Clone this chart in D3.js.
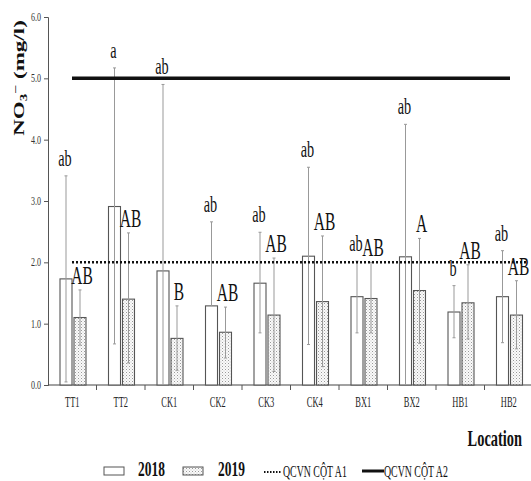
<!DOCTYPE html>
<html><head><meta charset="utf-8">
<script src="https://cdn.jsdelivr.net/npm/d3@7"></script>
<style>body{margin:0;background:#fff}svg{display:block}</style>
</head><body>
<svg id="c" width="531" height="481"></svg>
<script>
const categories = ["TT1","TT2","CK1","CK2","CK3","CK4","BX1","BX2","HB1","HB2"];
const series = ["2018","2019"];
const mean2018  = [1.73, 2.91, 1.86, 1.29, 1.66, 2.10, 1.44, 2.09, 1.19, 1.44];
const upper2018 = [3.41, 5.17, 4.90, 2.66, 2.49, 3.55, 2.02, 4.25, 1.62, 2.19];
const lower2018 = [0.05, 0.67, 0.00, 1.29, 0.85, 0.66, 0.85, 0.00, 0.77, 0.69];
const mean2019  = [1.10, 1.40, 0.76, 0.86, 1.14, 1.36, 1.41, 1.54, 1.34, 1.14];
const upper2019 = [1.55, 2.48, 1.29, 1.27, 2.07, 2.43, 2.00, 2.39, 1.96, 1.70];
const lower2019 = [0.65, 0.36, 0.24, 0.44, 0.22, 0.30, 0.85, 0.68, 0.75, 0.59];
const letters2018 = ["ab","a","ab","ab","ab","ab","ab","ab","b","ab"];
const letters2019 = ["AB","AB","B","AB","AB","AB","AB","A","AB","AB"];
const yTicks = [0,1,2,3,4,5,6];
const limitA1 = 2.0;
const limitA2 = 5.0;
const legendLabels = ["2018","2019","QCVN CỘT A1","QCVN CỘT A2"];

const svg = d3.select("#c");
const SERIF = "'Liberation Serif','Times New Roman',serif";
const SX = 0.62;

const defs = svg.append("defs");
const pat = defs.append("pattern").attr("id","dots").attr("patternUnits","userSpaceOnUse")
  .attr("width",3).attr("height",3);
pat.append("rect").attr("width",3).attr("height",3).attr("fill","#fafafa");
pat.append("rect").attr("x",0).attr("y",0).attr("width",1).attr("height",1).attr("fill","#9a9a9a");
pat.append("rect").attr("x",1.5).attr("y",1.5).attr("width",1).attr("height",1).attr("fill","#c4c4c4");

const x = d3.scaleBand().domain(categories).range([48, 533]);
const x1 = d3.scaleBand().domain(series).range([12, 38]).paddingInner(2/14);
const y = d3.scaleLinear().domain([0, 6]).range([385, 17]);

function ctext(parent, px, py, str, size, opts = {}) {
  return parent.append("text")
    .attr("transform", `translate(${px},${py}) scale(${opts.sx || SX},1)`)
    .attr("text-anchor", opts.anchor || "middle")
    .attr("font-family", SERIF)
    .attr("font-size", size)
    .attr("font-weight", opts.bold ? "bold" : "normal")
    .attr("fill", opts.fill || "#111")
    .text(str);
}

// axes
const yAxis = svg.append("g").attr("transform","translate(48,0)")
  .call(d3.axisLeft(y).tickValues(yTicks).tickSize(4).tickFormat(() => ""));
yAxis.select(".domain").attr("stroke","#555");
yAxis.selectAll(".tick line").attr("stroke","#555");
yTicks.forEach(t => ctext(svg, 36, y(t) + 4, d3.format(".1f")(t), 13, {fill:"#333"}));

const xAxis = svg.append("g").attr("transform","translate(0,385)")
  .call(d3.axisBottom(x).tickSize(0).tickFormat(() => ""));
xAxis.select(".domain").attr("stroke","#444").attr("d","M48,0H531");
categories.slice(1).forEach(c => {
  svg.append("line").attr("x1", x(c)).attr("x2", x(c)).attr("y1",385).attr("y2",390)
    .attr("stroke","#555");
});
categories.forEach(c => ctext(svg, x(c) + x.bandwidth()/2, 407, c, 14.5, {fill:"#222", sx:0.58}));

// bars + error bars
const data = [
  {s:"2018", mean:mean2018, up:upper2018, lo:lower2018, letters:letters2018},
  {s:"2019", mean:mean2019, up:upper2019, lo:lower2019, letters:letters2019}
];
data.forEach(d => {
  const g = svg.append("g");
  categories.forEach((c, i) => {
    const bx = x(c) + x1(d.s);
    const bw = x1.bandwidth();
    const cx = bx + bw/2;
    g.append("rect").attr("x", bx).attr("y", y(d.mean[i])).attr("width", bw)
      .attr("height", y(0) - y(d.mean[i]))
      .attr("fill", d.s === "2018" ? "#fff" : "url(#dots)")
      .attr("stroke", "#555").attr("stroke-width", 1.1);
    g.append("line").attr("x1", cx).attr("x2", cx).attr("y1", y(d.up[i])).attr("y2", y(d.lo[i]))
      .attr("stroke", "#999").attr("stroke-width", 1);
    [d.up[i], d.lo[i]].forEach(v => {
      if (v > 0.02 && v !== d.mean[i])
        g.append("line").attr("x1", cx-1.5).attr("x2", cx+1.5).attr("y1", y(v)).attr("y2", y(v))
          .attr("stroke", "#999").attr("stroke-width", 1);
    });
    if (d.s === "2018") ctext(svg, cx - 1, y(d.up[i]) - 10, d.letters[i], 23);
    else ctext(svg, cx + 2, y(d.up[i]) - 6, d.letters[i], 25);
  });
});

// reference lines
svg.append("line").attr("x1",72).attr("x2",527).attr("y1",y(limitA1)).attr("y2",y(limitA1))
  .attr("stroke","#111").attr("stroke-width",2.5).attr("stroke-dasharray","2,2");
svg.append("line").attr("x1",72).attr("x2",510).attr("y1",y(limitA2)).attr("y2",y(limitA2))
  .attr("stroke","#111").attr("stroke-width",3.5);

// axis titles
const yt = svg.append("text")
  .attr("transform","translate(24,78) rotate(-90) scale(1,0.62)")
  .attr("text-anchor","middle").attr("font-family",SERIF).attr("font-size",23)
  .attr("font-weight","bold").attr("fill","#111");
yt.append("tspan").text("NO");
yt.append("tspan").attr("font-size",15).attr("dy",5).text("3");
yt.append("tspan").attr("font-size",16).attr("dy",-13).text("−");
yt.append("tspan").attr("dy",8).text(" (mg/l)");

ctext(svg, 522, 446, "Location", 24, {bold:true, anchor:"end", sx:0.6});

// legend
const ly = 471;
svg.append("rect").attr("x",104).attr("y",ly-4).attr("width",20).attr("height",8)
  .attr("fill","#fff").attr("stroke","#555");
ctext(svg, 138, 476, legendLabels[0], 21, {bold:true, anchor:"start", sx:0.64});
svg.append("rect").attr("x",183).attr("y",ly-4).attr("width",20).attr("height",8)
  .attr("fill","url(#dots)").attr("stroke","#555");
ctext(svg, 218, 476, legendLabels[1], 21, {bold:true, anchor:"start", sx:0.64});
svg.append("line").attr("x1",264).attr("x2",281).attr("y1",ly+1).attr("y2",ly+1)
  .attr("stroke","#111").attr("stroke-width",2).attr("stroke-dasharray","1.5,1.5");
ctext(svg, 283, ly+6, legendLabels[2], 17, {anchor:"start", sx:0.58});
svg.append("line").attr("x1",362).attr("x2",384).attr("y1",ly).attr("y2",ly)
  .attr("stroke","#111").attr("stroke-width",3);
ctext(svg, 384, ly+6, legendLabels[3], 17, {anchor:"start", sx:0.58});
</script>
</body></html>
